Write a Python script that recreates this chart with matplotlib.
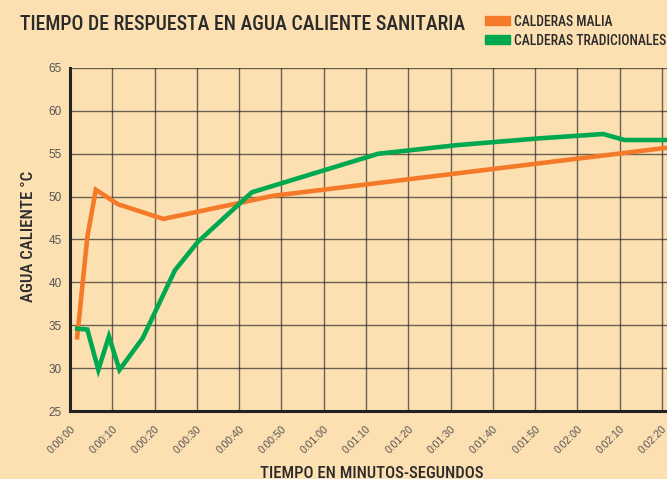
import matplotlib
matplotlib.use("Agg")
import matplotlib.pyplot as plt
from matplotlib.patches import Rectangle

# Datos (segundos, °C)
malia_t = [1.7, 4.1, 6.1, 11.4, 22.1, 48.1, 141.2]
malia_temp = [33.6, 45.3, 50.8, 49.1, 47.4, 50.1, 55.7]

trad_t = [1.7, 4.1, 6.7, 9.2, 11.7, 17.2, 24.8, 30.2, 43.0, 72.9, 91.4, 111.1, 126.1, 131.2, 141.2]
trad_temp = [34.6, 34.5, 29.8, 33.7, 29.8, 33.5, 41.4, 44.7, 50.5, 55.0, 56.0, 56.8, 57.3, 56.6, 56.6]

tick_secs = list(range(0, 141, 10))
tick_labels = ["0:%02d:%02d" % (s // 60, s % 60) for s in tick_secs]
y_ticks = list(range(25, 66, 5))

BG = "#FDE0B1"
ORANGE = "#F47A2A"
GREEN = "#00A84F"
INK = "#2b2b2b"
COND = ["Roboto Condensed", "DejaVu Sans"]
TICKF = ["Liberation Sans", "DejaVu Sans"]
W, H = 667, 479


def px(x, y):
    # pixel (desde arriba a la izquierda) -> fracción de figura
    return x / W, 1 - y / H


fig = plt.figure(figsize=(6.67, 4.79), dpi=100, facecolor=BG)
ax = fig.add_axes([70 / W, 1 - 411 / H, 1 - 70 / W, (411 - 68) / H], facecolor=BG)

ax.plot(malia_t, malia_temp, color=ORANGE, lw=3.3, solid_joinstyle="miter", zorder=3)
ax.plot(trad_t, trad_temp, color=GREEN, lw=3.3, solid_joinstyle="miter", zorder=3)

ax.set_xlim(0, 141.2)
ax.set_ylim(25, 65)
ax.set_xticks(tick_secs)
ax.set_xticklabels(tick_labels, rotation=45, ha="right", va="top",
                   rotation_mode="anchor", fontsize=7.5, color="#555555",
                   family=TICKF)
ax.set_yticks(y_ticks)
ax.set_yticklabels([str(v) for v in y_ticks], fontsize=8.5, color="#555555",
                   family=TICKF)
ax.tick_params(length=0)
ax.tick_params(axis="y", pad=6)
ax.tick_params(axis="x", pad=9)

ax.grid(True, color="#2a2a2a", lw=1.0, alpha=0.7)
for side in ["top", "right"]:
    ax.spines[side].set_visible(False)
for side in ["left", "bottom"]:
    ax.spines[side].set_linewidth(2.2)
    ax.spines[side].set_color("#222222")

# textos
fig.text(*px(29, 236), "AGUA CALIENTE °C", rotation=90, fontsize=12.2,
         color=INK, family=COND, weight="medium", ha="center", va="center")
fig.text(*px(372, 478), "TIEMPO EN MINUTOS-SEGUNDOS", fontsize=12,
         color=INK, family=COND, weight="medium", ha="center", va="baseline")
fig.text(*px(20, 30), "TIEMPO DE RESPUESTA EN AGUA CALIENTE SANITARIA",
         fontsize=14.3, color=INK, family=COND, weight="medium", va="baseline")

# leyenda a mano
for y0, col in [(16, ORANGE), (35, GREEN)]:
    fig.patches.append(Rectangle(px(485, y0 + 9), 25 / W, 9 / H,
                                 transform=fig.transFigure, color=col))
fig.text(*px(514, 26), "CALDERAS MALIA", fontsize=9.8,
         color=INK, family=COND, weight="medium", va="baseline")
fig.text(*px(514, 45), "CALDERAS TRADICIONALES", fontsize=9.8,
         color=INK, family=COND, weight="medium", va="baseline")

fig.savefig("out.png", dpi=100, facecolor=BG)
